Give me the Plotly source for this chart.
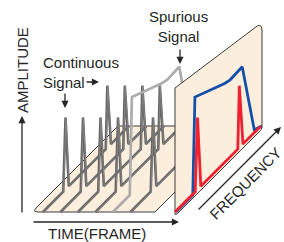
import numpy as np
import plotly.graph_objects as go

# ---- data ----
# continuous signal spectrum (one frame): normalized frequency / amplitude
cont_freq = [0.0, 0.235, 0.262, 0.30, 0.73, 0.748, 0.79, 1.0]
cont_amp = [0.0, 0.0, 0.72, 0.0, 0.0, 0.62, 0.0, 0.0]
# spurious signal spectrum (max hold)
spur_freq = [0.0, 0.195, 0.22, 0.565, 0.63, 0.77, 0.91, 1.0]
spur_amp = [0.0, 0.0, 0.96, 0.80, 0.78, 0.79, 0.04, 0.0]
# time frames (frame index) and which spectrum each frame shows
frame_index = [0, 1, 2, 3, 4, 5]
frame_kind = ["cont", "cont", "cont", "cont", "spur", "cont"]

# ---- oblique projection (pixel space) ----
X0, Y0 = 43.0, 212.0      # origin of first frame
DT = 17.5                 # pixels per frame along time
FX, FY = 86.0, 86.0       # frequency direction
AMP = 100.0               # amplitude scale
PANEL_X = 174.0           # x-start of spectrum panel


def proj(xs, f, a):
    f = np.asarray(f, float)
    a = np.asarray(a, float)
    return xs + f * FX, Y0 - f * FY - a * AMP


def rounded(pts, radii, n=6):
    pts = [np.array(p, float) for p in pts]
    out = []
    m = len(pts)
    for i in range(m):
        p = pts[i]
        r = radii[i]
        if r <= 0:
            out.append(p)
            continue
        pa = pts[i - 1]
        pb = pts[(i + 1) % m]
        da = (pa - p) / np.linalg.norm(pa - p)
        db = (pb - p) / np.linalg.norm(pb - p)
        s = p + da * r
        e = p + db * r
        for t in np.linspace(0, 1, n):
            out.append((1 - t) ** 2 * s + 2 * (1 - t) * t * p + t ** 2 * e)
    out.append(out[0])
    arr = np.array(out)
    return arr[:, 0], arr[:, 1]


PEACH = "#FCEEDD"
EDGE = "#3a3a3a"
TXT = "#262626"
FONT = "Liberation Sans"

fig = go.Figure()

# floor
fl = [(32, 212), (155, 212), (241, 126), (118, 126)]
fx, fy = rounded(fl, [6, 0, 0, 0])
fig.add_trace(go.Scatter(x=fx, y=fy, mode="lines", fill="toself", fillcolor=PEACH,
                         line=dict(color=EDGE, width=1), hoverinfo="skip"))

# frames
for idx, kind in zip(frame_index, frame_kind):
    xs = X0 + idx * DT
    if kind == "cont":
        px, py = proj(xs, cont_freq, cont_amp)
        col, core = "#666666", "#858585"
    else:
        px, py = proj(xs, spur_freq, spur_amp)
        col, core = "#a3a3a3", "#b8b8b8"
    fig.add_trace(go.Scatter(x=px, y=py, mode="lines",
                             line=dict(color=col, width=2.6), hoverinfo="skip"))
    fig.add_trace(go.Scatter(x=px + 0.4, y=py, mode="lines",
                             line=dict(color=core, width=0.9), hoverinfo="skip"))

# spectrum panel
pn = [(175, 216), (175, 88), (262, 22), (262, 129)]
pxp, pyp = rounded(pn, [3, 0, 9, 2])
fig.add_trace(go.Scatter(x=pxp, y=pyp, mode="lines", fill="toself", fillcolor=PEACH,
                         line=dict(color=EDGE, width=1), hoverinfo="skip"))

bx, by = proj(PANEL_X + 2, spur_freq, spur_amp)
fig.add_trace(go.Scatter(x=bx, y=by, mode="lines",
                         line=dict(color="#1550A8", width=2.8), hoverinfo="skip"))
rx, ry = proj(PANEL_X + 1, cont_freq, cont_amp)
fig.add_trace(go.Scatter(x=rx, y=ry, mode="lines",
                         line=dict(color="#EE2230", width=2.8), hoverinfo="skip"))


def arrow(x0, y0, x1, y1):
    fig.add_annotation(x=x1, y=y1, ax=x0, ay=y0, xref="x", yref="y",
                       axref="x", ayref="y", text="", showarrow=True,
                       arrowhead=2, arrowsize=1.1, arrowwidth=1.3, arrowcolor=TXT)


def label(x, y, text, size=15, angle=0, xanchor="center", align="center"):
    fig.add_annotation(x=x, y=y, xref="x", yref="y", text=text, showarrow=False,
                       textangle=angle, xanchor=xanchor, yanchor="middle", align=align,
                       font=dict(family=FONT, size=size, color=TXT))


arrow(22, 214, 22, 116)
label(22, 70, "AMPLITUDE", angle=-90)
arrow(32, 222, 179, 222)
label(97, 233, "TIME(FRAME)")
arrow(197, 211, 281, 127)
label(245, 183, "FREQUENCY", angle=-45)
label(41, 72, "Continuous<br>Signal", xanchor="left", align="left")
arrow(85, 82, 99, 82)
arrow(65, 92, 65, 108)
label(178, 26, "Spurious<br>Signal", align="center")
arrow(180, 48, 180, 64)

fig.update_layout(width=284, height=242, margin=dict(l=0, r=0, t=0, b=0),
                  paper_bgcolor="white", plot_bgcolor="white", showlegend=False,
                  xaxis=dict(range=[0, 284], visible=False, fixedrange=True),
                  yaxis=dict(range=[242, 0], visible=False, fixedrange=True))
fig.write_html("out.html", config={"displayModeBar": False},
               post_script="document.body.style.margin='0';document.body.style.overflow='hidden';")
